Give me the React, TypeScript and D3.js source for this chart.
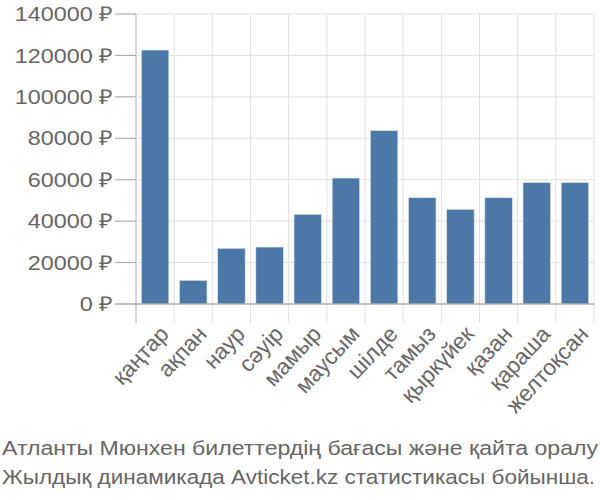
import React from "react";
import * as d3 from "d3";

const months = ["қаңтар", "ақпан", "наур", "сәуір", "мамыр", "маусым", "шілде", "тамыз", "қыркүйек", "қазан", "қараша", "желтоқсан"];
const prices = [122600, 11400, 26900, 27500, 43300, 60800, 83700, 51300, 45700, 51300, 58600, 58600];
const yTicks = [0, 20000, 40000, 60000, 80000, 100000, 120000, 140000];
const captionLines = [
  "Атланты Мюнхен билеттердің бағасы және қайта оралу",
  "Жылдық динамикада Avticket.kz статистикасы бойынша.",
];

export default function App() {
  const W = 600, H = 500;
  const left = 136, right = 594, top = 14, bottom = 304;
  const x = d3.scaleBand<string>().domain(months).range([left, right]).paddingInner(0.28).paddingOuter(0.14);
  const y = d3.scaleLinear().domain([0, 140000]).range([bottom, top]);
  const step = x.step();
  const font = "'Liberation Sans', Arial, sans-serif";
  const fs = 20.5;
  const sx = 1.14;
  const gridColor = "#e0e0e0";
  const textColor = "#666";
  const captionWidths = [596, 593];
  return (
    <svg width={W} height={H} style={{ position: "absolute", left: 0, top: 0 }}>
      {d3.range(months.length + 1).map(i => {
        const xx = left + i * step;
        return <line key={"v" + i} x1={xx} x2={xx} y1={top} y2={bottom + 19} stroke={i === 0 ? "#aaa" : gridColor} strokeWidth={1} />;
      })}
      {yTicks.map(t => (
        <g key={"h" + t}>
          <line x1={left - 21} x2={right} y1={y(t)} y2={y(t)} stroke={t === 0 ? "#aaa" : gridColor} strokeWidth={1} />
          <line x1={left - 21} x2={left} y1={y(t)} y2={y(t)} stroke="#aaa" strokeWidth={1} />
          <text transform={`translate(${left - 23},${y(t)}) scale(${sx},1)`} dy="0.35em" textAnchor="end"
            fontFamily={font} fontSize={fs} fill={textColor}>
            {t} ₽
          </text>
        </g>
      ))}
      {months.map((m, i) => (
        <rect key={m} x={x(m)} y={y(prices[i])} width={x.bandwidth()} height={bottom - y(prices[i])}
          fill="#4c78a8" stroke="#dde6f0" strokeWidth={0.6} />
      ))}
      <line x1={left} x2={right} y1={bottom} y2={bottom} stroke="#aaa" strokeWidth={1} />
      {months.map(m => {
        const cx = (x(m) as number) + x.bandwidth() / 2 + 3;
        const cy = bottom + 20;
        return (
          <text key={"l" + m} transform={`translate(${cx},${cy}) rotate(-47)`} textAnchor="end" dy="0.72em"
            fontFamily={font} fontSize={22.5} fill={textColor}>{m}</text>
        );
      })}
      {captionLines.map((s, i) => (
        <text key={"c" + i} x={2} y={455 + i * 29} textLength={captionWidths[i]} lengthAdjust="spacingAndGlyphs"
          fontFamily={font} fontSize={fs} fill={textColor}>{s}</text>
      ))}
    </svg>
  );
}
